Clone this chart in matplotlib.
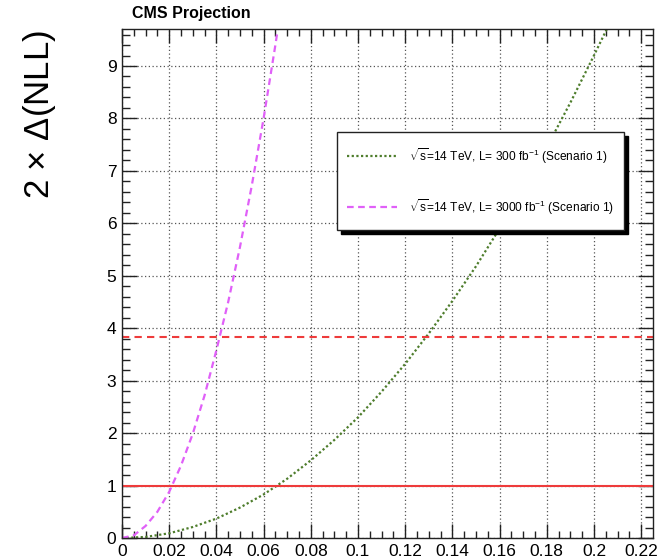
import matplotlib
matplotlib.use("Agg")
import matplotlib.pyplot as plt
from matplotlib.patches import Rectangle
from matplotlib.lines import Line2D
from matplotlib.ticker import MultipleLocator

plt.rcParams['font.family'] = ['Liberation Sans', 'DejaVu Sans']
plt.rcParams['mathtext.fontset'] = 'custom'
plt.rcParams['mathtext.rm'] = 'Liberation Sans'
plt.rcParams['mathtext.it'] = 'Liberation Sans'

# Likelihood scans, 2*Delta(NLL) versus the coupling parameter
x_300 = [0.0, 0.01, 0.02, 0.03, 0.04, 0.05, 0.06, 0.07, 0.08, 0.09, 0.10,
         0.11, 0.12, 0.13, 0.14, 0.15, 0.16, 0.17, 0.18, 0.19, 0.20, 0.2054]
y_300 = [0.0, 0.02, 0.09, 0.21, 0.37, 0.58, 0.83, 1.13, 1.48, 1.87, 2.30,
         2.79, 3.32, 3.90, 4.52, 5.18, 5.90, 6.65, 7.45, 8.30, 9.20, 9.70]

x_3000 = [0.0, 0.005, 0.01, 0.015, 0.02, 0.025, 0.03, 0.035, 0.04, 0.045,
          0.05, 0.055, 0.06, 0.065, 0.066]
y_3000 = [0.0, 0.05, 0.23, 0.50, 0.88, 1.38, 1.99, 2.72, 3.58, 4.50,
          5.55, 6.72, 8.00, 9.40, 9.70]

# Confidence-level reference lines
cl_levels = [1.0, 3.84]

label_300 = r"$\sqrt{s}$=14 TeV, L= 300 fb$^{-1}$ (Scenario 1)"
label_3000 = r"$\sqrt{s}$=14 TeV, L= 3000 fb$^{-1}$ (Scenario 1)"

W, H = 667, 560
fig = plt.figure(figsize=(W / 100, H / 100), dpi=100)


def fpx(x, y):
    return x / W, 1 - y / H


left, right, top, bottom = 122, 652.7, 29.3, 538
ax = fig.add_axes([left / W, 1 - bottom / H, (right - left) / W, (bottom - top) / H])

ax.set_xlim(0, 0.2249)
ax.set_ylim(0, 9.70)

green = '#4e7d2c'
pink = '#e060f8'
red = '#ee3b3b'

ax.plot(x_300, y_300, color=green, lw=1.6, linestyle=(0, (1, 1.1)))
ax.plot(x_3000, y_3000, color=pink, lw=1.6, linestyle=(0, (3, 2)))
ax.axhline(cl_levels[0], color=red, lw=1.5)
ax.axhline(cl_levels[1], color=red, lw=1.5, linestyle=(0, (3.5, 2.5)))

ax.xaxis.set_major_locator(MultipleLocator(0.02))
ax.xaxis.set_minor_locator(MultipleLocator(0.005))
ax.yaxis.set_major_locator(MultipleLocator(1))
ax.yaxis.set_minor_locator(MultipleLocator(0.2))


def xfmt(v, pos):
    s = f"{v:.2f}".rstrip('0').rstrip('.')
    return s if s else '0'


ax.xaxis.set_major_formatter(plt.FuncFormatter(xfmt))
ax.tick_params(which='both', direction='in', top=True, right=True,
               colors='#222222', labelcolor='black', labelsize=12.5)
ax.tick_params(axis='y', which='major', length=11, width=1, pad=4)
ax.tick_params(axis='y', which='minor', length=6, width=1)
ax.tick_params(axis='x', which='major', length=10, width=1, pad=4)
ax.tick_params(axis='x', which='minor', length=5, width=1)
for sp in ax.spines.values():
    sp.set_color('#222222')
    sp.set_linewidth(1)

ax.grid(True, which='major', color='#555555', linestyle=(0, (1, 2)), lw=0.9)
ax.set_axisbelow(True)

# Title and axis title
fig.text(*fpx(132, 18), 'CMS Projection', fontsize=11.5, fontweight='bold',
         ha='left', va='baseline')
fig.text(*fpx(40, 30), r'2 $\times$ $\Delta$(NLL)', fontsize=25, rotation=90,
         ha='center', va='top')

# Legend box with solid drop shadow
bx0, by0, bx1, by1 = 337, 132, 624.3, 230
sh = 3.5
x0, y0 = fpx(bx0 + sh, by1 + sh)
x1, y1 = fpx(bx1 + sh, by0 + sh)
fig.add_artist(Rectangle((x0, y0), x1 - x0, y1 - y0, transform=fig.transFigure,
                         facecolor='black', edgecolor='black', zorder=5))
x0, y0 = fpx(bx0, by1)
x1, y1 = fpx(bx1, by0)
fig.add_artist(Rectangle((x0, y0), x1 - x0, y1 - y0, transform=fig.transFigure,
                         facecolor='white', edgecolor='#222222', lw=1, zorder=6))

entries = [(label_300, green, (0, (1, 1.1)), 156),
           (label_3000, pink, (0, (3, 2)), 207)]
for text, col, ls, yy in entries:
    lx0, ly = fpx(347, yy)
    lx1, _ = fpx(397, yy)
    fig.add_artist(Line2D([lx0, lx1], [ly, ly], transform=fig.transFigure,
                          color=col, lw=1.6, linestyle=ls, zorder=7))
    fig.text(*fpx(409, yy), text, fontsize=8.6, ha='left', va='center', zorder=8)

fig.savefig('out.png', dpi=100)
